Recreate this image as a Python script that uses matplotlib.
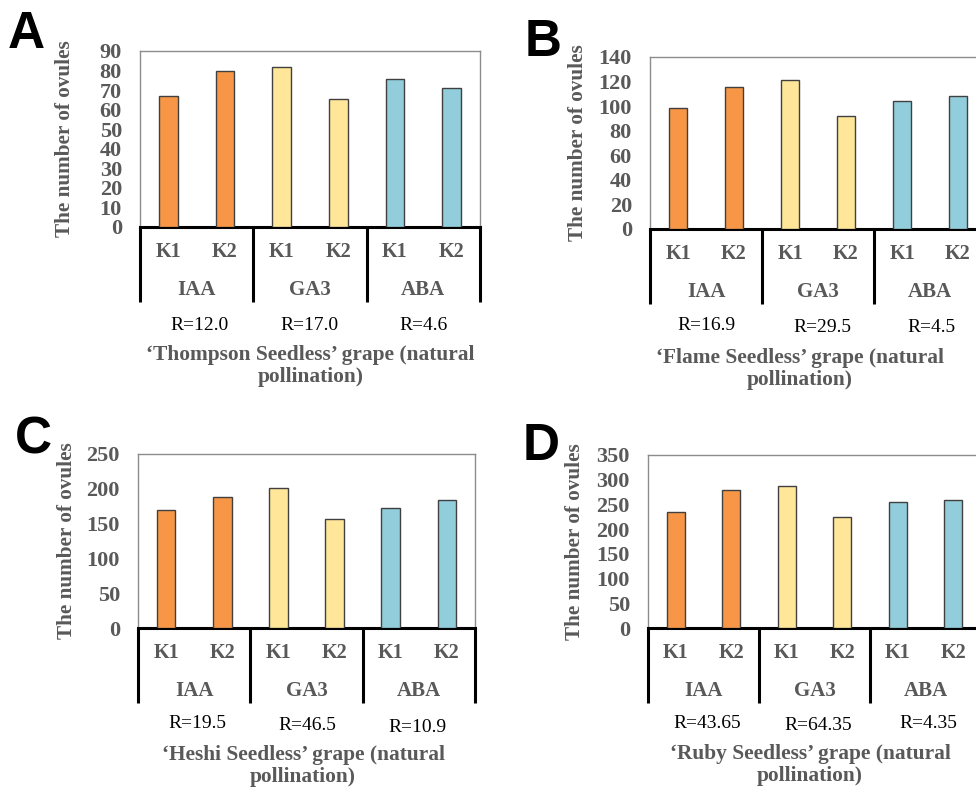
import matplotlib
matplotlib.use("Agg")
import matplotlib.pyplot as plt
from matplotlib.transforms import ScaledTranslation

# Data
groups = ["IAA", "GA3", "ABA"]
levels = ["K1", "K2"]
thompson = [67.1, 79.8, 82.0, 65.3, 75.8, 71.2]
flame = [98.5, 115.3, 121.3, 91.7, 104.4, 108.5]
heshi = [169.5, 188.6, 201.6, 156.2, 172.8, 183.9]
ruby = [233.9, 279.0, 287.8, 223.7, 254.7, 258.8]
r_thompson = ["R=12.0", "R=17.0", "R=4.6"]
r_flame = ["R=16.9", "R=29.5", "R=4.5"]
r_heshi = ["R=19.5", "R=46.5", "R=10.9"]
r_ruby = ["R=43.65", "R=64.35", "R=4.35"]
captions = ["\u2018Thompson Seedless\u2019 grape (natural\npollination)",
            "\u2018Flame Seedless\u2019 grape (natural\npollination)",
            "\u2018Heshi Seedless\u2019 grape (natural\npollination)",
            "\u2018Ruby Seedless\u2019 grape (natural\npollination)"]

colors = ["#F79646", "#F79646", "#FFE699", "#FFE699", "#92CDDC", "#92CDDC"]
gray = "#595959"
serif = "Liberation Serif"

W, H = 976, 787
fig = plt.figure(figsize=(W / 100, H / 100), dpi=100)


def px_axes(left, right, top, bottom):
    return fig.add_axes([left / W, 1 - bottom / H, (right - left) / W, (bottom - top) / H])


def panel(box, values, ymax, ystep, rlabels, roff, rdy, caption, cap_x, cap_dy, ylab_x,
          letter, letter_xy):
    ax = px_axes(*box)
    x = range(len(values))
    ax.bar(x, values, width=0.33, color=colors, edgecolor="#404040", linewidth=1.0, zorder=3)
    ax.set_xlim(-0.5, len(values) - 0.5)
    ax.set_ylim(0, ymax)
    ax.set_yticks(range(0, ymax + 1, ystep))
    ax.set_xticks([])
    ax.tick_params(axis="y", length=0, pad=13)
    for t in ax.get_yticklabels():
        t.set_fontfamily(serif)
        t.set_fontweight("bold")
        t.set_fontsize(16)
        t.set_color(gray)
    for s in ["left", "top", "right"]:
        ax.spines[s].set_color("#8c8c8c")
        ax.spines[s].set_linewidth(1.0)
    ax.spines["bottom"].set_color("black")
    ax.spines["bottom"].set_linewidth(2.2)
    ax.set_ylabel("The number of ovules", fontfamily=serif, fontweight="bold",
                  fontsize=15.3, color=gray)
    ax.yaxis.set_label_coords(ylab_x, 0.5)

    def below(px):
        return ax.get_xaxis_transform() + ScaledTranslation(0, -px / 100, fig.dpi_scale_trans)

    # group separators under the axis
    for xs in [-0.5, 1.5, 3.5, 5.5]:
        ax.plot([xs, xs], [0, -75 / (box[3] - box[2])], transform=ax.get_xaxis_transform(),
                color="black", linewidth=2.2, clip_on=False, solid_capstyle="butt")
    for i in x:
        ax.text(i, 0, levels[i % 2], transform=below(25), ha="center", va="center",
                fontfamily=serif, fontweight="bold", fontsize=14.5, color=gray)
    for g in range(3):
        ax.text(2 * g + 0.5, 0, groups[g], transform=below(63), ha="center", va="center",
                fontfamily=serif, fontweight="bold", fontsize=15, color=gray)
        ax.text(2 * g + 0.5 + roff[g], 0, rlabels[g], transform=below(rdy[g]),
                ha="center", va="center", fontfamily=serif, fontsize=14, color="black")
    ax.text(cap_x, 0, caption, transform=below(cap_dy), ha="center", va="center",
            fontfamily=serif, fontweight="bold", fontsize=15.4, color=gray, linespacing=1.15)
    fig.text(letter_xy[0] / W, 1 - letter_xy[1] / H, letter, ha="left", va="top",
             fontfamily="Liberation Sans", fontweight="bold", fontsize=37)
    return ax


panel((140, 480, 51, 227), thompson, 90, 10, r_thompson, [0.05, -0.01, 0.0],
      [98, 98, 98], captions[0], 2.51, 139, -0.19, "A", (8, 10))
panel((650, 986, 57, 229), flame, 140, 20, r_flame, [0.01, 0.07, 0.03],
      [96, 99, 99], captions[1], 2.18, 140, -0.185, "B", (525, 18))
panel((138, 475, 454, 628), heshi, 250, 50, r_heshi, [0.05, 0.02, -0.02],
      [95, 97, 99], captions[2], 2.44, 138, -0.18, "C", (15, 416))
panel((648, 981, 455, 628), ruby, 350, 50, r_ruby, [0.06, 0.06, 0.05],
      [95, 97, 95], captions[3], 2.42, 137, -0.19, "D", (523, 422))

plt.savefig("out.png", dpi=100)
